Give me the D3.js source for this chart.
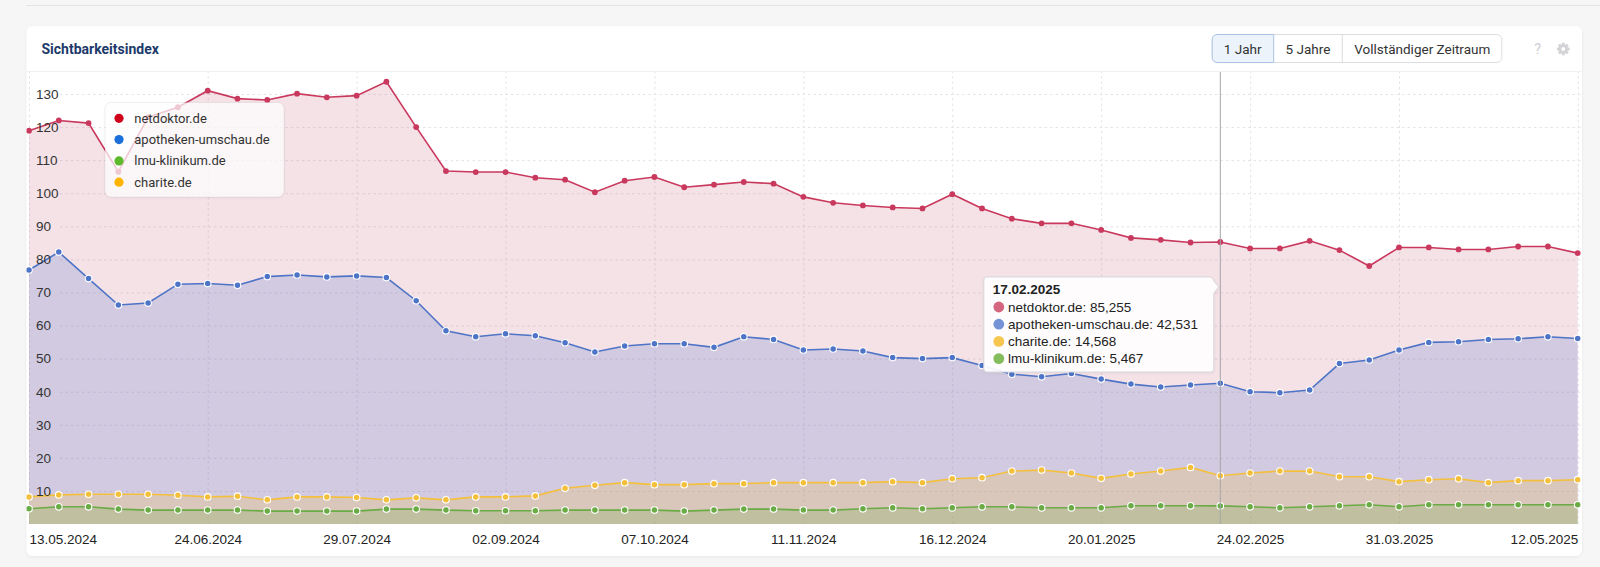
<!DOCTYPE html>
<html>
<head>
<meta charset="utf-8">
<script src="https://cdn.jsdelivr.net/npm/d3@7"></script>
<style>
  html, body { margin: 0; padding: 0; background: #f6f6f7; }
  svg { display: block; }
</style>
</head>
<body>
<svg width="1600" height="567"></svg>
<script>
// chart data, weekly values
const startDate = '2024-05-13'
const weekCount = 53

const netdoktor = [118.9, 122.0, 121.2, 106.5, 123.0, 126.0, 131.0, 128.6, 128.2, 130.1, 129.0, 129.5, 133.7, 120.0,
  106.7, 106.4, 106.4, 104.7, 104.1, 100.3, 103.8, 104.9, 101.8, 102.6, 103.4, 102.9, 98.9,
  97.1, 96.3, 95.7, 95.4, 99.7, 95.4, 92.3, 90.9, 90.9, 88.9, 86.5, 85.9, 85.1, 85.255,
  83.3, 83.3, 85.6, 82.8, 78.0, 83.6, 83.6, 83.0, 83.0, 83.9, 83.9, 81.9]

const apotheken = [76.8, 82.2, 74.2, 66.2, 66.8, 72.5, 72.7, 72.2, 74.8, 75.3, 74.7, 75.0, 74.5, 67.5,
  58.4, 56.6, 57.5, 56.9, 54.8, 52.0, 53.8, 54.5, 54.5, 53.4, 56.6, 55.8, 52.6,
  52.9, 52.3, 50.3, 50.0, 50.3, 47.9, 45.3, 44.5, 45.5, 43.8, 42.3, 41.4, 42.0, 42.531,
  40.0, 39.7, 40.5, 48.5, 49.6, 52.6, 54.9, 55.1, 55.8, 56.0, 56.6, 56.1]

const charite = [8.2, 8.8, 9.0, 9.0, 9.0, 8.7, 8.2, 8.4, 7.3, 8.2, 8.2, 8.0, 7.3, 7.9,
  7.3, 8.2, 8.2, 8.5, 10.8, 11.7, 12.5, 11.9, 11.9, 12.2, 12.2, 12.5, 12.5,
  12.5, 12.5, 12.8, 12.5, 13.7, 14.0, 16.0, 16.3, 15.4, 13.8, 15.1, 16.0, 17.1, 14.568,
  15.4, 16.0, 16.0, 14.3, 14.3, 12.8, 13.4, 13.7, 12.5, 13.1, 13.1, 13.4]

const lmu = [4.6, 5.2, 5.2, 4.5, 4.2, 4.2, 4.2, 4.2, 3.9, 3.9, 3.9, 3.9, 4.5, 4.5,
  4.2, 4.0, 4.0, 4.0, 4.2, 4.2, 4.2, 4.2, 3.9, 4.2, 4.5, 4.5, 4.2,
  4.2, 4.6, 4.9, 4.6, 4.9, 5.2, 5.2, 4.9, 4.9, 4.9, 5.5, 5.5, 5.5, 5.467,
  5.2, 4.9, 5.2, 5.5, 5.8, 5.2, 5.8, 5.8, 5.8, 5.8, 5.8, 5.8]

const xTickLabels = ['13.05.2024', '24.06.2024', '29.07.2024', '02.09.2024', '07.10.2024', '11.11.2024',
  '16.12.2024', '20.01.2025', '24.02.2025', '31.03.2025', '12.05.2025']
const yTicks = [10, 20, 30, 40, 50, 60, 70, 80, 90, 100, 110, 120, 130]

const legendNames = ['netdoktor.de', 'apotheken-umschau.de', 'lmu-klinikum.de', 'charite.de']
const buttonLabels = ['1 Jahr', '5 Jahre', 'Vollständiger Zeitraum']
const tooltipDate = '17.02.2025'

const sans = "'Liberation Sans', Arial, sans-serif"
const ui = "Roboto, 'Noto Sans', sans-serif"

const parseDay = d3.utcParse('%d.%m.%Y')
const formatDay = d3.utcFormat('%d.%m.%Y')
const deNum = d3.formatLocale({decimal: ',', thousands: '.', grouping: [3], currency: ['', '€']}).format('.3f')

const dates = d3.range(weekCount).map(i => d3.utcDay.offset(d3.utcParse('%Y-%m-%d')(startDate), i * 7))

// series table built from the arrays above
const series = [
  {name: 'netdoktor.de', values: netdoktor, line: '#c9385d', fill: 'rgba(190,60,95,0.15)', tip: '#d4657f', ring: false},
  {name: 'apotheken-umschau.de', values: apotheken, line: '#4d74c6', fill: 'rgba(70,110,200,0.2)', tip: '#7393d6', ring: true},
  {name: 'charite.de', values: charite, line: '#f4c03c', fill: 'rgba(245,190,60,0.22)', tip: '#f6c64e', ring: true},
  {name: 'lmu-klinikum.de', values: lmu, line: '#6aab45', fill: 'rgba(100,170,70,0.22)', tip: '#85bd5c', ring: true}
]
const legendColors = {'netdoktor.de': '#d0021b', 'apotheken-umschau.de': '#1a6fdb', 'lmu-klinikum.de': '#5fb92c', 'charite.de': '#ffb400'}

// layout
const card = {left: 26.5, top: 26, right: 1582, bottom: 556}
const plot = {left: 26.5, top: 72, right: 1582, bottom: 524}

const svg = d3.select('svg')

const x = d3.scaleUtc()
.domain([dates[0], dates[dates.length - 1]])
.range([29, 1577.7])

const y = d3.scaleLinear()
.domain([0, 136.65])
.range([plot.bottom, plot.top])

const defs = svg.append('defs')

const shadow = defs
.append('filter')
.attr('id', 'shadow')
.attr('x', '-5%').attr('y', '-5%').attr('width', '110%').attr('height', '115%')

shadow
.append('feDropShadow')
.attr('dx', 0).attr('dy', 1).attr('stdDeviation', 1.5)
.attr('flood-color', '#000').attr('flood-opacity', 0.06)

defs
.append('clipPath')
.attr('id', 'plotClip')
.append('rect')
.attr('x', plot.left).attr('y', plot.top)
.attr('width', plot.right - plot.left).attr('height', plot.bottom - plot.top)

// page top rule
svg
.append('line')
.attr('x1', card.left).attr('x2', 1600)
.attr('y1', 5.5).attr('y2', 5.5)
.attr('stroke', '#e3e3e5')

// card
svg
.append('rect')
.attr('x', card.left).attr('y', card.top)
.attr('width', card.right - card.left).attr('height', card.bottom - card.top)
.attr('rx', 6)
.attr('fill', '#fff')
.attr('filter', 'url(#shadow)')

svg
.append('line')
.attr('x1', card.left).attr('x2', card.right)
.attr('y1', plot.top - 0.5).attr('y2', plot.top - 0.5)
.attr('stroke', '#f0f0f2')

// header
svg
.append('text')
.attr('x', 41.5).attr('y', 54)
.attr('font-family', ui).attr('font-size', 14).attr('font-weight', 700)
.attr('fill', '#1d3a6b')
.text('Sichtbarkeitsindex')

const btnEdges = [1211.7, 1273.7, 1342.3, 1502.3]
const btns = svg.append('g')

btns
.append('rect')
.attr('x', btnEdges[0] + 0.5).attr('y', 34.5)
.attr('width', btnEdges[3] - btnEdges[0] - 1).attr('height', 28)
.attr('rx', 5)
.attr('fill', '#fff').attr('stroke', '#dcdde0')

btns
.append('path')
.attr('d', `M${btnEdges[1]},34.5 H${btnEdges[0] + 5.5} a5,5 0 0 0 -5,5 V57.5 a5,5 0 0 0 5,5 H${btnEdges[1]} Z`)
.attr('fill', '#edf3fb').attr('stroke', '#a9c3e5')

btns
.selectAll('.divider')
.data([btnEdges[2]])
.enter()
.append('line')
.attr('class', 'divider')
.attr('x1', d => d).attr('x2', d => d)
.attr('y1', 35).attr('y2', 62)
.attr('stroke', '#dcdde0')

btns
.selectAll('.btnLabel')
.data(buttonLabels)
.enter()
.append('text')
.attr('class', 'btnLabel')
.attr('x', (d, i) => (btnEdges[i] + btnEdges[i + 1]) / 2)
.attr('y', 53.5)
.attr('text-anchor', 'middle')
.attr('font-family', ui).attr('font-size', 13.5)
.attr('fill', '#333')
.text(d => d)

svg
.append('text')
.attr('x', 1537.7).attr('y', 54)
.attr('text-anchor', 'middle')
.attr('font-family', ui).attr('font-size', 14.5)
.attr('fill', '#cfcfd3')
.text('?')

// small gear icon
const gear = svg
.append('g')
.attr('transform', 'translate(1563.3, 49)')

gear
.selectAll('rect')
.data(d3.range(4))
.enter()
.append('rect')
.attr('x', -1.5).attr('y', -6.3)
.attr('width', 3).attr('height', 12.6)
.attr('rx', 0.6)
.attr('transform', d => `rotate(${d * 45})`)
.attr('fill', '#d3d3d7')

gear.append('circle').attr('r', 4.6).attr('fill', '#d3d3d7')
gear.append('circle').attr('r', 1.9).attr('fill', '#fff')

// grid
const tickDates = xTickLabels.map(parseDay)

svg
.append('g')
.attr('class', 'grid-y')
.attr('transform', 'translate(60, 0)')
.call(d3.axisLeft(y).tickValues(yTicks).tickSize(-(plot.right - 60)).tickFormat(''))
.call(g => g.select('.domain').remove())
.call(g => g.selectAll('line').attr('stroke', '#e4e4e8').attr('stroke-dasharray', '2.5,3'))

svg
.append('g')
.attr('class', 'grid-x')
.attr('transform', `translate(0, ${plot.bottom})`)
.call(d3.axisBottom(x).tickValues(tickDates).tickSize(-(plot.bottom - plot.top)).tickFormat(''))
.call(g => g.select('.domain').remove())
.call(g => g.selectAll('line').attr('stroke', '#e4e4e8').attr('stroke-dasharray', '2.5,3'))

// areas, lines and markers
const area = d3.area()
.x((d, i) => x(dates[i]))
.y0(y(0))
.y1(d => y(d))

const line = d3.line()
.x((d, i) => x(dates[i]))
.y(d => y(d))

const plotG = svg
.append('g')
.attr('clip-path', 'url(#plotClip)')

series.forEach(s => {
  plotG
  .append('path')
  .attr('d', area(s.values))
  .attr('fill', s.fill)
})

series.forEach(s => {
  plotG
  .append('path')
  .attr('d', line(s.values))
  .attr('fill', 'none')
  .attr('stroke', s.line)
  .attr('stroke-width', 1.6)
})

series.forEach(s => {
  plotG
  .selectAll(null)
  .data(s.values)
  .enter()
  .append('circle')
  .attr('cx', (d, i) => x(dates[i]))
  .attr('cy', d => y(d))
  .attr('r', s.ring ? 3.3 : 2.9)
  .attr('fill', s.line)
  .attr('stroke', s.ring ? '#fff' : 'none')
  .attr('stroke-width', 1.1)
})

// crosshair at the hovered week
const tipDay = parseDay(tooltipDate)
const tipIndex = dates.findIndex(d => +d === +tipDay)

svg
.append('line')
.attr('x1', x(tipDay)).attr('x2', x(tipDay))
.attr('y1', plot.top).attr('y2', plot.bottom)
.attr('stroke', '#a6a6aa')
.attr('stroke-width', 1)

// y axis labels sit inside the plot
svg
.append('g')
.attr('class', 'axis-y')
.attr('transform', 'translate(36, 0)')
.call(d3.axisRight(y).tickValues(yTicks).tickSize(0).tickPadding(0))
.call(g => g.select('.domain').remove())
.call(g => g.selectAll('text').attr('font-family', sans).attr('font-size', 13.5).attr('fill', '#333'))

// x axis labels
svg
.append('g')
.attr('class', 'axis-x')
.attr('transform', `translate(0, ${plot.bottom})`)
.call(d3.axisBottom(x).tickValues(tickDates).tickSize(0).tickPadding(10.5).tickFormat(formatDay))
.call(g => g.select('.domain').remove())
.call(g => g.selectAll('text').attr('font-family', sans).attr('font-size', 13.5).attr('fill', '#222'))
.call(g => g.selectAll('.tick').filter((d, i) => i === 0).select('text').attr('text-anchor', 'start'))
.call(g => g.selectAll('.tick').filter((d, i) => i === tickDates.length - 1).select('text').attr('text-anchor', 'end'))

// legend box
const legend = svg
.append('g')
.attr('transform', 'translate(105, 102.5)')

legend
.append('rect')
.attr('width', 179).attr('height', 94.5)
.attr('rx', 6)
.attr('fill', 'rgba(255,255,255,0.72)')
.attr('stroke', 'rgba(0,0,0,0.06)')
.attr('filter', 'url(#shadow)')

const items = legend
.selectAll('.item')
.data(legendNames)
.enter()
.append('g')
.attr('class', 'item')
.attr('transform', (d, i) => `translate(0, ${15.8 + i * 21.3})`)

items
.append('circle')
.attr('cx', 14).attr('r', 4.6)
.attr('fill', d => legendColors[d])

items
.append('text')
.attr('x', 29.3).attr('dy', '0.35em')
.attr('font-family', ui).attr('font-size', 13)
.attr('fill', '#333')
.text(d => d)

// tooltip for the hovered week
const tipRows = series
.map(s => ({name: s.name, color: s.tip, value: s.values[tipIndex]}))
.sort((a, b) => b.value - a.value)

const tipRight = x(tipDay) - 6.5
const tipLeft = tipRight - 230
const tipTop = 277
const tipBottom = 372

const tip = svg.append('g')

tip
.append('path')
.attr('d', `M${tipLeft + 3},${tipTop} H${tipRight - 3} l3,3 V${tipTop + 4} l5,6 l-5,6 V${tipBottom - 3} a3,3 0 0 1 -3,3 H${tipLeft + 3} a3,3 0 0 1 -3,-3 V${tipTop + 3} a3,3 0 0 1 3,-3 Z`)
.attr('fill', 'rgba(255,255,255,0.92)')
.attr('stroke', '#d6d6da')
.attr('filter', 'url(#shadow)')

tip
.append('text')
.attr('x', tipLeft + 9).attr('y', tipTop + 16.8)
.attr('font-family', sans).attr('font-size', 13.5).attr('font-weight', 700)
.attr('fill', '#222')
.text(tooltipDate)

const rows = tip
.selectAll('.row')
.data(tipRows)
.enter()
.append('g')
.attr('class', 'row')
.attr('transform', (d, i) => `translate(${tipLeft}, ${tipTop + 30 + i * 17.2})`)

rows
.append('circle')
.attr('cx', 15).attr('r', 5.4)
.attr('fill', d => d.color)

rows
.append('text')
.attr('x', 24.3).attr('dy', '0.35em')
.attr('font-family', sans).attr('font-size', 13.5)
.attr('fill', '#222')
.text(d => `${d.name}: ${deNum(d.value)}`)
</script>
</body>
</html>
